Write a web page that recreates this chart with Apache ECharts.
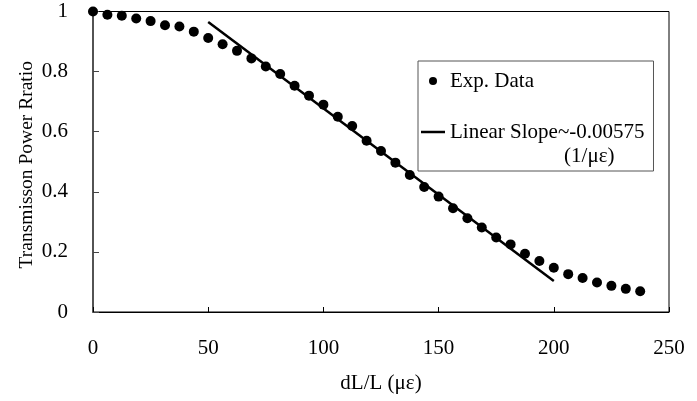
<!DOCTYPE html>
<html>
<head>
<meta charset="utf-8">
<title>Transmission Power Ratio vs dL/L</title>
<script src="https://cdn.jsdelivr.net/npm/echarts@6/dist/echarts.min.js"></script>
<style>
    html, body { margin: 0; padding: 0; background: #fff; }
    #chart { width: 697px; height: 401px; }
</style>
</head>
<body>
<div id="chart"></div>
<script>
// ===== 数据 =====
const strainX = [
    0, 6.25, 12.5, 18.75, 25, 31.25, 37.5, 43.75, 50, 56.25,
    62.5, 68.75, 75, 81.25, 87.5, 93.75, 100, 106.25, 112.5, 118.75,
    125, 131.25, 137.5, 143.75, 150, 156.25, 162.5, 168.75, 175, 181.25,
    187.5, 193.75, 200, 206.25, 212.5, 218.75, 225, 231.25, 237.5
];
const powerRatio = [
    1.0, 0.989, 0.986, 0.977, 0.968, 0.954, 0.950, 0.933, 0.912, 0.891,
    0.869, 0.844, 0.817, 0.792, 0.753, 0.720, 0.690, 0.650, 0.619, 0.570,
    0.536, 0.497, 0.456, 0.416, 0.384, 0.345, 0.312, 0.281, 0.248, 0.225,
    0.194, 0.170, 0.147, 0.126, 0.113, 0.098, 0.087, 0.077, 0.069
];
const fitX = [50, 200];
const fitY = [0.965, 0.103];

const xTicks = { min: 0, max: 250, interval: 50 };
const yTicks = { min: 0, max: 1, interval: 0.2 };

const FONT = "'Liberation Serif', 'Times New Roman', serif";

// ===== 图表 =====
const chart = echarts.init(document.getElementById('chart'));

const option = {
    animation: false,
    backgroundColor: '#fff',
    textStyle: { fontFamily: FONT, color: '#000' },
    grid: {
        left: 93,
        right: 28,
        top: 11.5,
        bottom: 89,
        show: true,
        borderColor: '#000',
        borderWidth: 1,
    },
    legend: {
        orient: 'vertical',
        left: 418,
        top: 61,
        padding: [8, 9, 3, 3],
        itemGap: 3,
        itemWidth: 24,
        itemHeight: 8,
        borderColor: '#555',
        borderWidth: 1,
        backgroundColor: '#fff',
        data: [
            { name: 'Exp. Data', icon: 'circle', itemStyle: { color: '#000', opacity: 1 } },
            { name: 'Linear', icon: 'path://M0,0 L24,0 L24,2.5 L0,2.5 Z', itemStyle: { color: '#000' } },
        ],
        formatter: name => {
            if (name === 'Linear') {
                return '{s| }\n{a|Linear Slope~-0.00575}\n{b|(1/με)}';
            }
            return '{a|Exp. Data}';
        },
        textStyle: {
            fontFamily: FONT,
            fontSize: 21,
            lineHeight: 24,
            color: '#000',
            rich: {
                s: { fontSize: 21, lineHeight: 24 },
                a: { fontFamily: FONT, fontSize: 21, lineHeight: 24, color: '#000' },
                b: { fontFamily: FONT, fontSize: 21, lineHeight: 24, color: '#000', align: 'right', padding: [0, 30, 0, 0] },
            },
        },
    },
    xAxis: {
        type: 'value',
        min: xTicks.min,
        max: xTicks.max,
        interval: xTicks.interval,
        name: 'dL/L (με)',
        nameLocation: 'middle',
        nameGap: 61,
        nameMoveOverlap: false,
        nameTextStyle: { fontFamily: FONT, fontSize: 21, color: '#000' },
        axisLine: { lineStyle: { color: '#000', width: 1 } },
        axisTick: { inside: true, length: 5, lineStyle: { color: '#000' } },
        axisLabel: { margin: 26, fontFamily: FONT, fontSize: 21, color: '#000' },
        splitLine: { show: false },
    },
    yAxis: {
        type: 'value',
        min: yTicks.min,
        max: yTicks.max,
        interval: yTicks.interval,
        name: 'Transmisson Power Rratio',
        nameLocation: 'middle',
        nameGap: 56,
        nameMoveOverlap: false,
        nameTextStyle: { fontFamily: FONT, fontSize: 19.5, color: '#000', padding: [0, 6, 0, 0] },
        axisLine: { lineStyle: { color: '#444', width: 1.5 } },
        axisTick: { inside: true, length: 6, lineStyle: { color: '#444' } },
        axisLabel: { margin: 25, fontFamily: FONT, fontSize: 21, color: '#000' },
        splitLine: { show: false },
    },
    series: [
        {
            name: 'Exp. Data',
            type: 'scatter',
            symbol: 'circle',
            symbolSize: 10,
            clip: false,
            itemStyle: { color: '#000', opacity: 1 },
            data: strainX.map((x, i) => [x, powerRatio[i]]),
            z: 3,
        },
        {
            name: 'Linear',
            type: 'line',
            symbol: 'none',
            itemStyle: { color: '#000' },
            lineStyle: { color: '#000', width: 2.5 },
            data: fitX.map((x, i) => [x, fitY[i]]),
            z: 2,
        },
    ],
};

chart.setOption(option);
</script>
</body>
</html>
